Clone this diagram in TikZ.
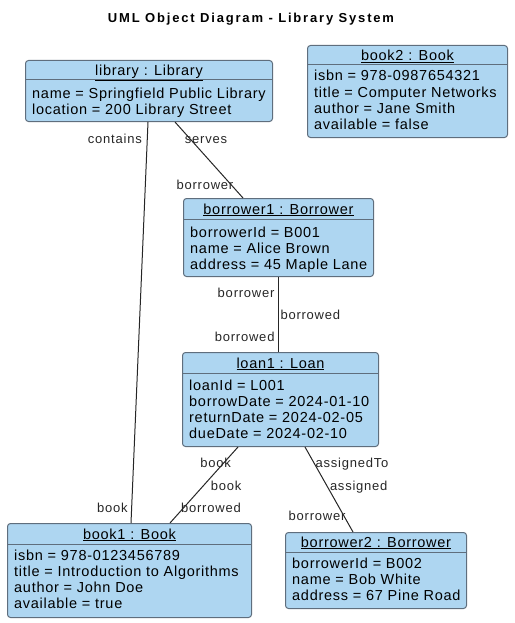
\documentclass[tikz,border=0pt]{standalone}
\usepackage{fontspec}
\setmainfont{Liberation Sans}
\newfontfamily\objfont{Liberation Sans}[LetterSpace=5]
\newfontfamily\rolefont{Liberation Sans}[LetterSpace=6]
\newfontfamily\titlefont{Liberation Sans}[LetterSpace=14]
\usepackage{tikz}
\usetikzlibrary{positioning}
\definecolor{objblue}{RGB}{174,214,241}
\definecolor{objline}{RGB}{95,110,125}
\tikzset{
  objbox/.style={rectangle, rounded corners=3pt, draw=objline, fill=objblue, line width=1pt, anchor=north west, inner sep=0pt},
  objsep/.style={draw=objline, line width=1pt},
  objname/.style={anchor=base, inner sep=0pt, font=\objfont\fontsize{14.5}{16}\selectfont},
  objattrs/.style={anchor=base west, inner sep=0pt, align=left, font=\objfont\fontsize{14.5}{16}\selectfont},
  link/.style={draw=black!85, line width=1pt}
}

\begin{document}
\begin{tikzpicture}[x=1pt, y=-1pt,
            role/.style={inner sep=0pt, text height=9.4pt, text depth=0pt, font=\rolefont\fontsize{13}{15}\selectfont, text=black!85},
            diagtitle/.style={inner sep=0pt, text height=9.4pt, text depth=0pt, font=\titlefont\fontsize{13}{15}\selectfont\bfseries}]
            \useasboundingbox (0,0) rectangle (514,623);

            \node (title) [diagtitle] at (251,18) {UML Object Diagram - Library System};

            % --- Objetos (base = ultima linea de atributos) ---
            \node (library) [objbox, minimum width=247pt, minimum height=61pt] at (25,60) {};
            \draw [objsep] ([yshift=-20pt]library.north west) -- ([yshift=-20pt]library.north east);
            \node (library-name) [objname] at ([yshift=-16pt]library.north) {\underline{library : Library}};
            \node (library-attrs) [objattrs] at ([xshift=7pt,yshift=-54pt]library.north west) {name = Springfield Public Library\\location = 200 Library Street};

            \node (book2) [objbox, minimum width=200pt, minimum height=92pt] at (307,45) {};
            \draw [objsep] ([yshift=-20pt]book2.north west) -- ([yshift=-20pt]book2.north east);
            \node (book2-name) [objname] at ([yshift=-16pt]book2.north) {\underline{book2 : Book}};
            \node (book2-attrs) [objattrs] at ([xshift=7pt,yshift=-84pt]book2.north west) {isbn = 978-0987654321\\title = Computer Networks\\author = Jane Smith\\available = false};

            \node (borrower1) [objbox, minimum width=190pt, minimum height=78pt] at (183,198) {};
            \draw [objsep] ([yshift=-21pt]borrower1.north west) -- ([yshift=-21pt]borrower1.north east);
            \node (borrower1-name) [objname] at ([yshift=-16pt]borrower1.north) {\underline{borrower1 : Borrower}};
            \node (borrower1-attrs) [objattrs] at ([xshift=7pt,yshift=-71pt]borrower1.north west) {borrowerId = B001\\name = Alice Brown\\address = 45 Maple Lane};

            \node (loan1) [objbox, minimum width=196pt, minimum height=94pt] at (182,352) {};
            \draw [objsep] ([yshift=-21pt]loan1.north west) -- ([yshift=-21pt]loan1.north east);
            \node (loan1-name) [objname] at ([yshift=-16pt]loan1.north) {\underline{loan1 : Loan}};
            \node (loan1-attrs) [objattrs] at ([xshift=7pt,yshift=-86pt]loan1.north west) {loanId = L001\\borrowDate = 2024-01-10\\returnDate = 2024-02-05\\dueDate = 2024-02-10};

            \node (book1) [objbox, minimum width=244pt, minimum height=94pt] at (7,523) {};
            \draw [objsep] ([yshift=-21pt]book1.north west) -- ([yshift=-21pt]book1.north east);
            \node (book1-name) [objname] at ([yshift=-16pt]book1.north) {\underline{book1 : Book}};
            \node (book1-attrs) [objattrs] at ([xshift=7pt,yshift=-85pt]book1.north west) {isbn = 978-0123456789\\title = Introduction to Algorithms\\author = John Doe\\available = true};

            \node (borrower2) [objbox, minimum width=181pt, minimum height=76pt] at (285,532) {};
            \draw [objsep] ([yshift=-20pt]borrower2.north west) -- ([yshift=-20pt]borrower2.north east);
            \node (borrower2-name) [objname] at ([yshift=-15pt]borrower2.north) {\underline{borrower2 : Borrower}};
            \node (borrower2-attrs) [objattrs] at ([xshift=7pt,yshift=-68pt]borrower2.north west) {borrowerId = B002\\name = Bob White\\address = 67 Pine Road};

            % --- Enlaces ---
            \draw [link] ([xshift=123pt]library.south west)
                -- node (r-contains) [role, pos=0.042, left=5pt] {contains}
                   node (r-book-a) [role, pos=0.963, left=3.5pt] {book}
                ([xshift=124pt]book1.north west);
            \draw [link] ([xshift=150pt]library.south west)
                -- node (r-serves) [role, pos=0.22, xshift=16pt] {serves}
                   node (r-borrower-a) [role, pos=0.83, xshift=-26.5pt] {borrower}
                ([xshift=60pt]borrower1.north west);
            \draw [link] ([xshift=95pt]borrower1.south west)
                -- node (r-borrower-b) [role, pos=0.21, left=3pt] {borrower}
                   node (r-borrowed-a) [role, pos=0.51, right=2pt] {borrowed}
                   node (r-borrowed-b) [role, pos=0.80, left=3pt] {borrowed}
                ([xshift=96pt]loan1.north west);
            \draw [link] ([xshift=56pt]loan1.south west)
                -- node (r-book-b) [role, pos=0.21, xshift=-8pt] {book}
                   node (r-book-c) [role, pos=0.506, xshift=22.5pt] {book}
                   node (r-borrowed-c) [role, pos=0.805, xshift=27.7pt] {borrowed}
                ([xshift=163pt]book1.north west);
            \draw [link] ([xshift=123pt]loan1.south west)
                -- node (r-assignedto) [role, pos=0.186, xshift=38pt] {assignedTo}
                   node (r-assigned) [role, pos=0.453, xshift=32pt] {assigned}
                   node (r-borrower-c) [role, pos=0.814, xshift=-27pt] {borrower}
                ([xshift=68pt]borrower2.north west);

        \end{tikzpicture}
\end{document}
